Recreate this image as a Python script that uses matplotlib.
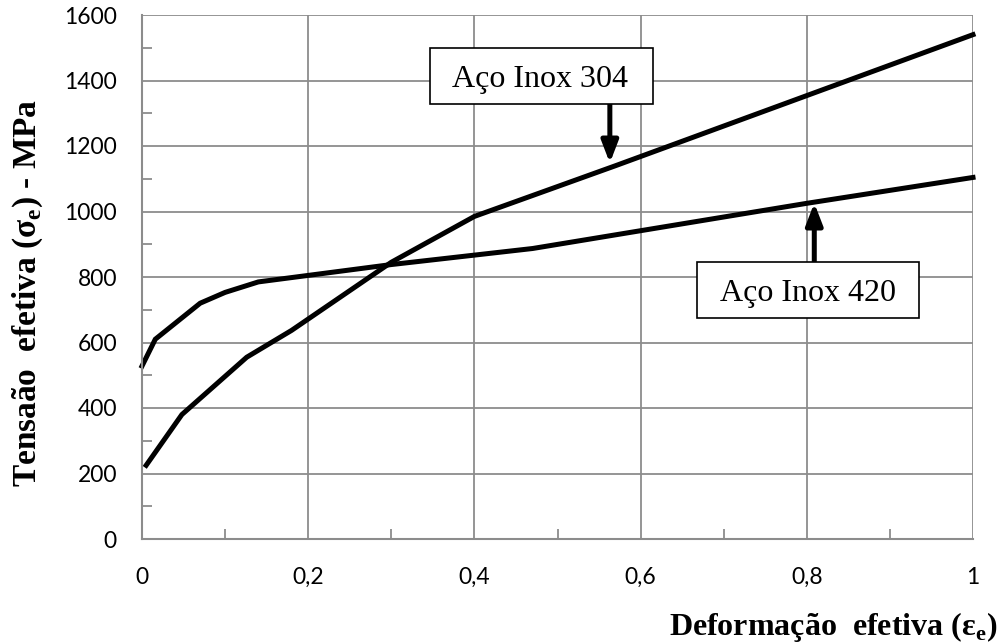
import matplotlib.pyplot as plt
from matplotlib.patches import Rectangle
from matplotlib.ticker import MultipleLocator, FuncFormatter

plt.rcParams["font.family"] = "Lato"
plt.rcParams["font.serif"] = ["Liberation Serif", "DejaVu Serif"]
plt.rcParams["mathtext.fontset"] = "custom"
plt.rcParams["mathtext.rm"] = "Liberation Serif"
plt.rcParams["mathtext.bf"] = "Liberation Serif:bold"

# curvas de escoamento (deformação efetiva x tensão efetiva, MPa)
def_304 = [0.005, 0.048, 0.126, 0.18, 0.30, 0.40, 0.57, 1.0]
ten_304 = [225, 380, 555, 637, 845, 985, 1140, 1540]

def_420 = [0.0, 0.016, 0.07, 0.10, 0.14, 0.30, 0.47, 0.80, 1.0]
ten_420 = [528, 610, 720, 753, 785, 838, 887, 1025, 1104]

cinza = "#8c8c8c"

fig = plt.figure(figsize=(10.02, 6.43), dpi=100)
ax = fig.add_axes([142 / 1002, 1 - 539 / 643, 831 / 1002, 524 / 643])

ax.plot(def_304, ten_304, color="black", lw=3.6, solid_joinstyle="miter", clip_on=False)
ax.plot(def_420, ten_420, color="black", lw=3.6, solid_joinstyle="miter", clip_on=False)

ax.set_xlim(0, 1)
ax.set_ylim(0, 1600)
ax.xaxis.set_major_locator(MultipleLocator(0.2))
ax.xaxis.set_minor_locator(MultipleLocator(0.1))
ax.yaxis.set_major_locator(MultipleLocator(200))
ax.yaxis.set_minor_locator(MultipleLocator(100))
ax.xaxis.set_major_formatter(FuncFormatter(lambda v, p: f"{v:g}".replace(".", ",")))

ax.grid(True, which="major", color=cinza, lw=1.3)
ax.set_axisbelow(True)
for s in ["top", "right"]:
    ax.spines[s].set_visible(False)
for s in ["left", "bottom"]:
    ax.spines[s].set_color(cinza)
    ax.spines[s].set_linewidth(1.5)

ax.tick_params(which="both", direction="in", color=cinza, width=1.3, labelsize=16.5)
ax.tick_params(which="major", length=0)
ax.tick_params(which="minor", length=7)
ax.tick_params(axis="x", pad=20)
ax.tick_params(axis="y", pad=18)

seta = dict(arrowstyle="-|>,head_length=1.3,head_width=0.5", color="black", lw=3.6,
            shrinkA=0, shrinkB=0)

# caixas com os nomes dos aços
caixas = [
    ("Aço Inox 304", 0.3466, 1328, 0.2684, 171, 0.4795),
    ("Aço Inox 420", 0.6679, 675, 0.2672, 171, 0.8015),
]
for nome, x0, y0, w, h, xc in caixas:
    ax.add_patch(Rectangle((x0, y0), w, h, fc="white", ec="black", lw=1.2, zorder=5))
    ax.text(xc, y0 + h / 2, nome, ha="center", va="center_baseline", fontsize=23,
            family="serif", zorder=6)

ax.annotate("", xy=(0.563, 1148), xytext=(0.563, 1328), arrowprops=seta)
ax.annotate("", xy=(0.809, 1026), xytext=(0.809, 846), arrowprops=seta)

fig.text(0.995, 0.013, "Deformação  efetiva (ε$_\\mathbf{e}$)", ha="right", va="baseline",
         fontsize=23, fontweight="bold", family="serif")
fig.text(0.028, 1 - 293 / 643, "Tensaão  efetiva (σ$_\\mathbf{e}$) - MPa", ha="center",
         va="center", rotation=90, fontsize=24, fontweight="bold", family="serif")

fig.savefig("out.png", dpi=100)
